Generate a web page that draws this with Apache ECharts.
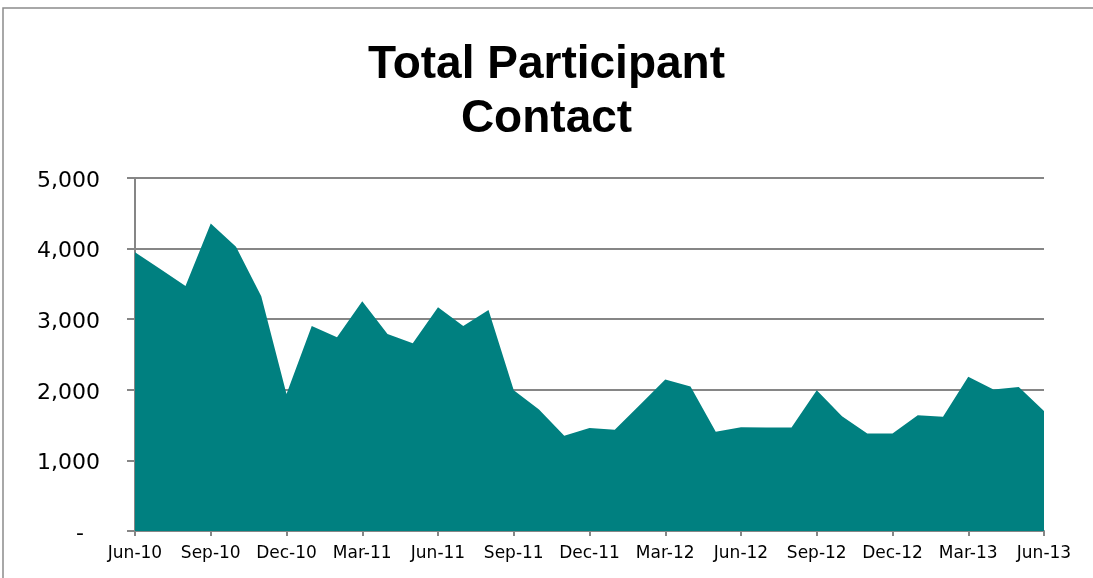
<!doctype html>
<html>
<head>
<meta charset="utf-8">
<title>Total Participant Contact</title>
<script src="https://cdn.jsdelivr.net/npm/echarts@6/dist/echarts.min.js"></script>
<style>
  html, body { margin: 0; padding: 0; background: #fff; }
  #main { width: 1093px; height: 578px; }
</style>
</head>
<body>
<div id="main"></div>
<script type="text/javascript">
// monthly contacts, Jun-10 .. Jun-13
var months = ['Jun-10','Jul-10','Aug-10','Sep-10','Oct-10','Nov-10','Dec-10',
  'Jan-11','Feb-11','Mar-11','Apr-11','May-11','Jun-11','Jul-11','Aug-11','Sep-11','Oct-11','Nov-11','Dec-11',
  'Jan-12','Feb-12','Mar-12','Apr-12','May-12','Jun-12','Jul-12','Aug-12','Sep-12','Oct-12','Nov-12','Dec-12',
  'Jan-13','Feb-13','Mar-13','Apr-13','May-13','Jun-13'];
var contacts = [3950, 3710, 3470, 4355, 4025, 3325, 1940,
  2905, 2745, 3255, 2790, 2660, 3170, 2905, 3130, 1995, 1720, 1350, 1460,
  1435, 1790, 2145, 2045, 1405, 1470, 1465, 1465, 1995, 1625, 1380, 1380,
  1640, 1620, 2185, 2005, 2040, 1700];
var yTicks = [0, 1000, 2000, 3000, 4000, 5000];

var myChart = echarts.init(document.getElementById('main'));

var option = {
    animation: false,
    title: {
        text: 'Total Participant\nContact',
        left: 'center',
        top: 33,
        textStyle: {
            fontFamily: 'Liberation Sans',
            fontWeight: 'bold',
            fontSize: 46,
            lineHeight: 54,
            color: '#000'
        }
    },
    graphic: [{
        type: 'rect',
        shape: { x: 3, y: 8, width: 1100, height: 600 },
        style: { fill: 'none', stroke: '#8c8c8c', lineWidth: 1.5 },
        silent: true
    }],
    grid: { left: 135, right: 49, top: 178, bottom: 47 },
    xAxis: {
        type: 'category',
        boundaryGap: false,
        data: months,
        axisLine: { lineStyle: { color: '#868686', width: 2 } },
        axisTick: { interval: 2, length: 5, lineStyle: { color: '#868686', width: 2 } },
        axisLabel: {
            interval: 2,
            margin: 14,
            fontFamily: 'DejaVu Sans',
            fontSize: 17,
            color: '#000'
        },
        splitLine: { show: false }
    },
    yAxis: {
        type: 'value',
        min: yTicks[0],
        max: yTicks[yTicks.length - 1],
        interval: 1000,
        axisLine: { show: true, lineStyle: { color: '#868686', width: 2 } },
        axisTick: { show: true, length: 8, lineStyle: { color: '#868686', width: 2 } },
        axisLabel: {
            margin: 35,
            fontFamily: 'DejaVu Sans',
            fontSize: 22,
            color: '#000',
            padding: [6, 0, 0, 0],
            formatter: function (v) {
                return v === 0 ? '{z|-}' : v.toLocaleString('en-US');
            },
            rich: {
                z: { fontFamily: 'DejaVu Sans', fontSize: 22, padding: [0, 16, 0, 0] }
            }
        },
        splitLine: { lineStyle: { color: '#868686', width: 2 } }
    },
    series: [{
        name: 'Total Participant Contact',
        type: 'line',
        data: contacts,
        symbol: 'none',
        lineStyle: { width: 0 },
        areaStyle: { color: '#008080', opacity: 1 },
        z: 1
    }]
};
myChart.setOption(option);
</script>
</body>
</html>
